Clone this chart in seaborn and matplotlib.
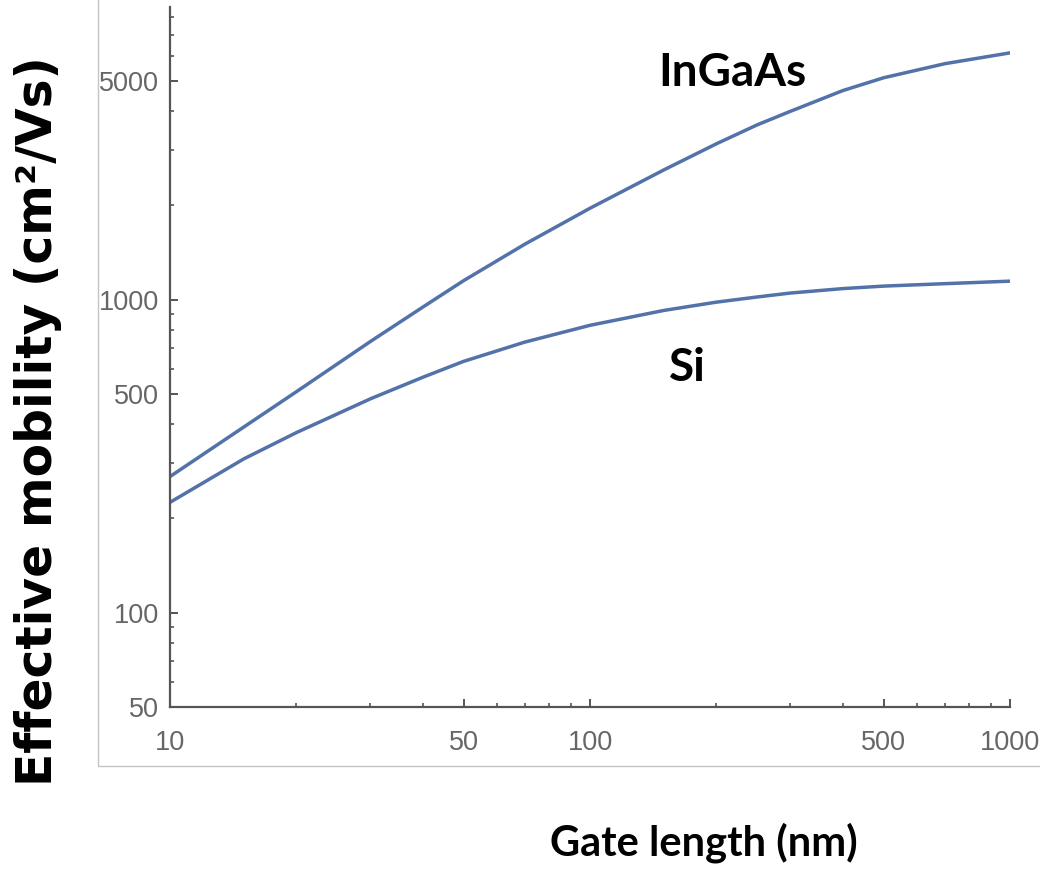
import matplotlib
matplotlib.use("Agg")
import matplotlib.pyplot as plt
from matplotlib.patches import Rectangle
from matplotlib.ticker import FixedLocator, NullFormatter, FixedFormatter
import seaborn as sns
import pandas as pd

# Gate length (nm) and effective mobility (cm^2/Vs) for each channel material
gate_length = [10, 15, 20, 30, 40, 50, 70, 100, 150, 200, 250, 300, 400, 500, 700, 1000]
mobility_ingaas = [272, 392, 508, 735, 947, 1150, 1505, 1960, 2600, 3150, 3620, 4000,
                   4660, 5120, 5680, 6150]
mobility_si = [225, 310, 376, 482, 565, 635, 732, 828, 924, 982, 1020, 1050,
               1085, 1105, 1125, 1146]

materials = ["InGaAs", "Si"]
x_major = [10, 50, 100, 500, 1000]
x_minor = [20, 30, 40, 60, 70, 80, 90, 200, 300, 400, 600, 700, 800, 900]
y_major = [50, 100, 500, 1000, 5000]
y_minor = [60, 70, 80, 90, 200, 300, 400, 600, 700, 800, 900,
           2000, 3000, 4000, 6000, 7000, 8000]

df = pd.concat([
    pd.DataFrame({"L": gate_length, "mu": mobility_ingaas, "material": materials[0]}),
    pd.DataFrame({"L": gate_length, "mu": mobility_si, "material": materials[1]}),
])

sns.set_style("ticks")
plt.rcParams["font.family"] = ["Liberation Sans", "DejaVu Sans"]

fig = plt.figure(figsize=(10.4, 8.73), dpi=100)
ax = fig.add_axes([170 / 1040, 166.3 / 873, 840 / 1040, 699.7 / 873])

line_color = "#5372a9"
sns.lineplot(data=df, x="L", y="mu", hue="material",
             palette=[line_color, line_color], linewidth=2.5,
             legend=False, ax=ax, sort=True)

ax.set_xscale("log")
ax.set_yscale("log")
ax.set_xlim(10, 1000)
ax.set_ylim(50, 8620)

ax.xaxis.set_major_locator(FixedLocator(x_major))
ax.xaxis.set_major_formatter(FixedFormatter([str(v) for v in x_major]))
ax.xaxis.set_minor_locator(FixedLocator(x_minor))
ax.xaxis.set_minor_formatter(NullFormatter())
ax.yaxis.set_major_locator(FixedLocator(y_major))
ax.yaxis.set_major_formatter(FixedFormatter([str(v) for v in y_major]))
ax.yaxis.set_minor_locator(FixedLocator(y_minor))
ax.yaxis.set_minor_formatter(NullFormatter())

axis_gray = "#555555"
for side in ["top", "right"]:
    ax.spines[side].set_visible(False)
for side in ["left", "bottom"]:
    ax.spines[side].set_color(axis_gray)
    ax.spines[side].set_linewidth(1.6)

ax.tick_params(which="major", direction="in", length=6, width=1.4,
               color=axis_gray, labelcolor="#666666", labelsize=19.5)
ax.tick_params(which="minor", direction="in", length=3, width=1.2,
               color=axis_gray)
ax.tick_params(axis="y", which="major", pad=8)
ax.tick_params(axis="x", which="major", pad=17)

ax.set_xlabel("")
ax.set_ylabel("")

# Curve labels
ax.text(218, 5320, "InGaAs", fontsize=33, fontweight="bold", family="Lato",
        ha="center", va="center", color="black")
ax.text(171, 605, "Si", fontsize=33, fontweight="bold", family="Lato",
        ha="center", va="center", color="black")

# Axis titles
fig.text(38 / 1040, (873 - 421) / 873, "Effective mobility (cm²/Vs)", rotation=90,
         fontsize=35, fontweight="bold", family=["DejaVu Sans"],
         ha="center", va="center", color="black")
fig.text(704 / 1040, (873 - 843) / 873, "Gate length (nm)", fontsize=30,
         fontweight="bold", family="Lato", ha="center", va="center",
         color="black")

# Thin frame around the plot panel
fig.patches.append(Rectangle((98 / 1040, 107 / 873), 1.0, 1.0,
                             transform=fig.transFigure, fill=False,
                             edgecolor="#c4c4c4", linewidth=1.0))

fig.savefig("out.png", dpi=100)
